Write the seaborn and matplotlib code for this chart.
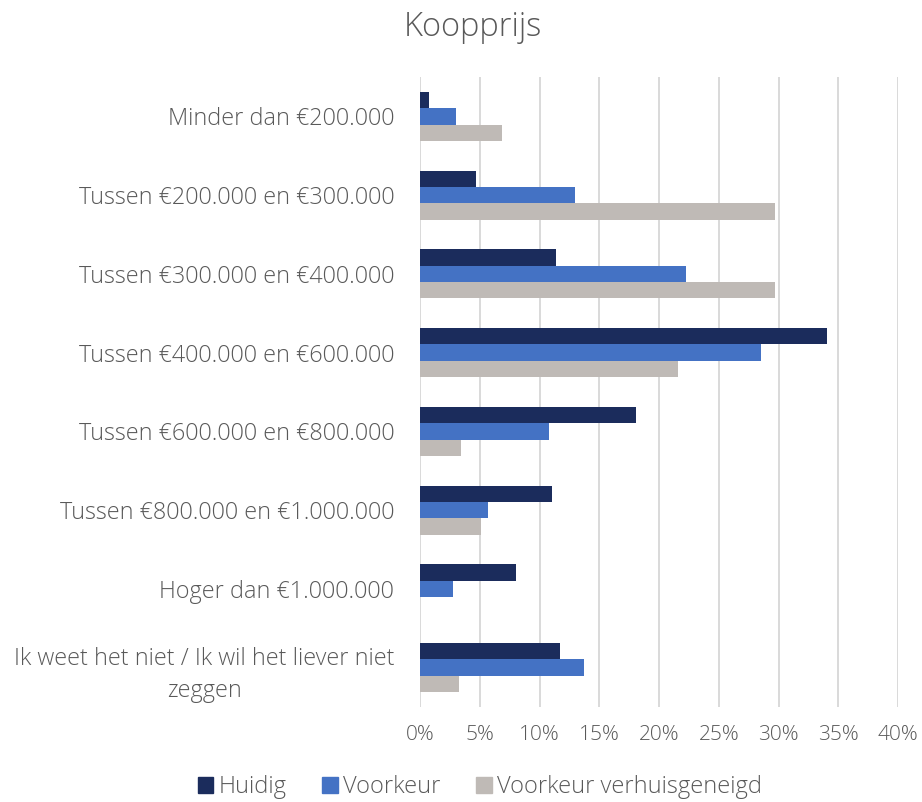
import numpy as np
import seaborn as sns
import matplotlib.pyplot as plt
import pandas as pd

categories = [
    'Minder dan €200.000',
    'Tussen €200.000 en €300.000',
    'Tussen €300.000 en €400.000',
    'Tussen €400.000 en €600.000',
    'Tussen €600.000 en €800.000',
    'Tussen €800.000 en €1.000.000',
    'Hoger dan €1.000.000',
    'Ik weet het niet / Ik wil het liever niet\nzeggen',
]
series = ['Huidig', 'Voorkeur', 'Voorkeur verhuisgeneigd']
huidig = [0.75, 4.7, 11.4, 34.1, 18.1, 11.05, 8.0, 11.7]
voorkeur = [3.0, 13.0, 22.3, 28.5, 10.8, 5.7, 2.8, 13.7]
verhuisgeneigd = [6.9, 29.7, 29.7, 21.6, 3.45, 5.1, 0.0, 3.3]
xticks = [0, 5, 10, 15, 20, 25, 30, 35, 40]
colors = ['#1B2C5C', '#4472C4', '#BFBAB6']

df = pd.DataFrame({
    'categorie': categories * 3,
    'reeks': np.repeat(series, len(categories)),
    'waarde': huidig + voorkeur + verhuisgeneigd,
})

sns.set_style('white')
plt.rcParams['font.family'] = ['Open Sans', 'DejaVu Sans']
txt = '#595959'

fig = plt.figure(figsize=(9.22, 8.02), dpi=100)
ax = fig.add_axes([420 / 922, 1 - 707 / 802, 478 / 922, 630 / 802])

sns.barplot(data=df, y='categorie', x='waarde', hue='reeks', order=categories,
            hue_order=series, palette=colors, orient='h', width=0.62,
            linewidth=0, saturation=1, ax=ax, zorder=3)

ax.set_xlim(0, 40)
ax.set_ylim(7.5, -0.5)
ax.set_xticks(xticks)
ax.set_xticklabels([f'{t}%' for t in xticks], fontsize=15, color=txt, fontweight='light')
ax.set_yticks(range(len(categories)))
ax.set_yticklabels(categories, fontsize=16.8, color=txt, fontweight='light',
                   multialignment='center', linespacing=1.45)
ax.tick_params(axis='both', length=0)
ax.tick_params(axis='x', pad=13)
ax.tick_params(axis='y', pad=18.5)
ax.set_xlabel('')
ax.set_ylabel('')
ax.grid(axis='x', color='#D9D9D9', linewidth=1.4, zorder=0)
for s in ax.spines.values():
    s.set_visible(False)

ax.get_legend().remove()
handles = [plt.Rectangle((0, 0), 1, 1, color=c) for c in colors]
fig.legend(handles, series, loc='center', bbox_to_anchor=(480 / 922, 1 - 787 / 802),
           ncol=3, frameon=False, prop={'size': 17, 'weight': 'light'},
           labelcolor=txt, handlelength=0.65, handleheight=0.65, handletextpad=0.25,
           columnspacing=1.5)

fig.text(473 / 922, 1 - 27 / 802, 'Koopprijs', ha='center', va='center',
         fontsize=23.5, color=txt, fontweight='light')

plt.savefig('out.png', dpi=100)
